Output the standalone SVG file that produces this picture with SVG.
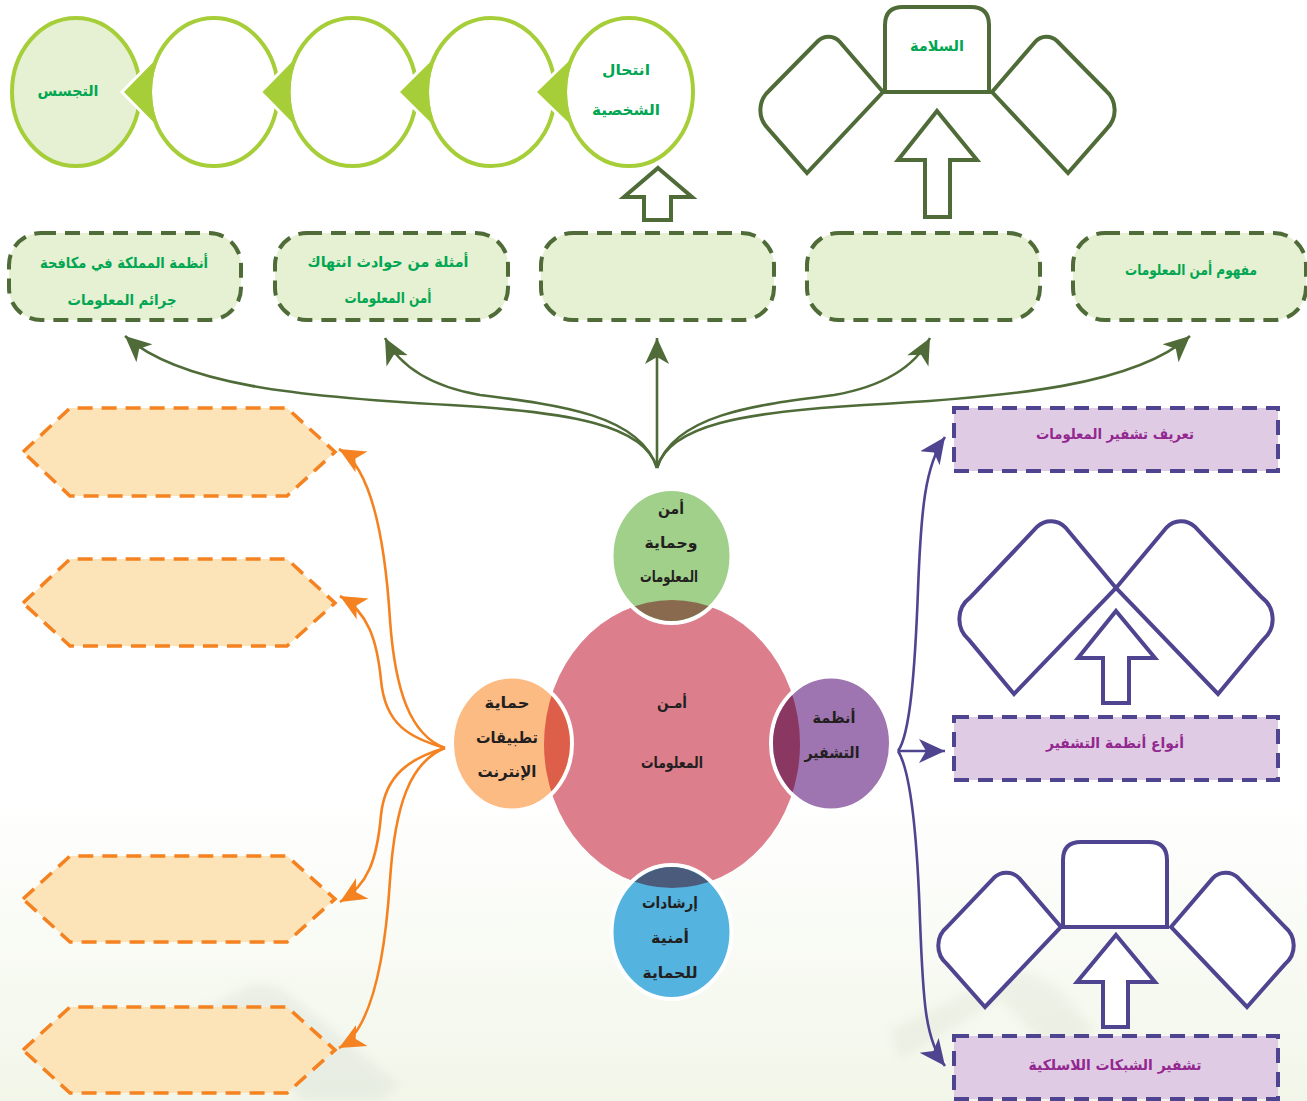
<svg xmlns="http://www.w3.org/2000/svg" width="1307" height="1101" viewBox="0 0 1307 1101">
<style>
text{font-family:"DejaVu Sans",sans-serif;font-weight:700;text-anchor:middle;direction:rtl;dominant-baseline:central}
.g{fill:#00a651;font-size:15px}
.p{fill:#92278f;font-size:14.500px}
.k{fill:#231f20;font-size:15.500px}
.el{fill:#fff;stroke:#a6ce39;stroke-width:4}
.hal{fill:#fff;stroke:#fff;stroke-width:6}
.che{fill:#a6ce39}
.pill{fill:#e6f0d2;stroke:#4e6b38;stroke-width:4;stroke-dasharray:15 9}
.hex{fill:#fde3b8;stroke:#f58220;stroke-width:3.500;stroke-dasharray:15 9}
.box{fill:#e0cbe4;stroke:#4e4490;stroke-width:4;stroke-dasharray:15 9}
.go{fill:#fff;stroke:#4e6b38;stroke-width:4}
.po{fill:#fff;stroke:#4e4490;stroke-width:4}
.ring{stroke:#fff;stroke-width:4}
.cg{fill:none;stroke:#4e6b38;stroke-width:2.600;marker-end:url(#mg)}
.co{fill:none;stroke:#f58220;stroke-width:2.600;marker-end:url(#mo)}
.cp{fill:none;stroke:#4e4490;stroke-width:2.600;marker-end:url(#mp)}
</style>
<defs>
<linearGradient id="bg" x1="0" y1="0" x2="0" y2="1"><stop offset="0" stop-color="#fff"/><stop offset=".72" stop-color="#fff"/><stop offset="1" stop-color="#f2f6e9"/></linearGradient>
<filter id="soft" x="-20%" y="-20%" width="140%" height="140%"><feGaussianBlur stdDeviation="5"/></filter>
<marker id="mg" viewBox="0 -13 28 26" refX="26" refY="0" markerWidth="28" markerHeight="26" markerUnits="userSpaceOnUse" orient="auto"><path d="M0-12 26 0 0 12 7 0Z" fill="#4e6b38"/></marker>
<marker id="mo" viewBox="0 -13 28 26" refX="26" refY="0" markerWidth="28" markerHeight="26" markerUnits="userSpaceOnUse" orient="auto"><path d="M0-12 26 0 0 12 7 0Z" fill="#f58220"/></marker>
<marker id="mp" viewBox="0 -13 28 26" refX="26" refY="0" markerWidth="28" markerHeight="26" markerUnits="userSpaceOnUse" orient="auto"><path d="M0-12 26 0 0 12 7 0Z" fill="#4e4490"/></marker>
<clipPath id="big"><ellipse cx="672" cy="744" rx="128" ry="144"/></clipPath>
</defs>
<rect id="background" width="1307" height="1101" fill="url(#bg)"/>
<path d="M190 1015 250 985Q270 980 290 995L400 1085 380 1101H300L250 1020 190 1040Z" fill="#dfe5dc" opacity=".5" filter="url(#soft)"/>
<path d="M890 1030 1000 975Q1030 965 1060 990L1095 1030 1060 1060 1000 1000 900 1060Z" fill="#dfe5d6" opacity=".4" filter="url(#soft)"/>

<g id="connectors">
<path class="cg" d="M657 468C645 425 570 412 450 405C300 397 180 385 125 336"/>
<path class="cg" d="M657 468C640 415 560 405 480 395C440 388 403 372 385 338"/>
<path class="cg" d="M657 468V338"/>
<path class="cg" d="M657 468C674 415 754 405 834 395C874 388 912 372 930 338"/>
<path class="cg" d="M657 468C669 425 744 412 864 405C1014 397 1135 385 1190 336"/>
<path class="co" d="M445 748C410 735 395 690 390 620C385 540 372 468 339 449"/>
<path class="co" d="M445 748C410 738 385 725 381 680C377 640 368 612 340 596"/>
<path class="co" d="M445 748C410 758 385 775 381 815C377 860 368 885 340 902"/>
<path class="co" d="M445 748C410 762 395 805 390 880C385 960 372 1030 339 1048"/>
<path class="cp" d="M898 751C910 735 915 670 918 590C921 510 925 465 945 437"/>
<path class="cp" d="M898 751H945"/>
<path class="cp" d="M898 751C910 770 917 830 920 920C923 1000 925 1040 945 1066"/>
</g>

<g id="chain">
<g id="chain-1"><ellipse cx="76" cy="92" rx="64" ry="74" class="el" style="fill:#e6f0d2"/><text class="g" x="68" y="91" textLength="61" lengthAdjust="spacingAndGlyphs">التجسس</text></g>
<g id="chain-2"><path class="hal" d="M124 92 160.300 55V129Z"/><ellipse cx="214" cy="92" rx="64" ry="74" class="el"/><path class="che" d="M124 92 160.300 55A62 74 0 0 0 160.300 129Z"/></g>
<g id="chain-3"><path class="hal" d="M262.500 92 298.800 55V129Z"/><ellipse cx="352.500" cy="92" rx="64" ry="74" class="el"/><path class="che" d="M262.500 92 298.800 55A62 74 0 0 0 298.800 129Z"/></g>
<g id="chain-4"><path class="hal" d="M400 92 437.300 55V129Z"/><ellipse cx="491" cy="92" rx="64" ry="74" class="el"/><path class="che" d="M400 92 437.300 55A62 74 0 0 0 437.300 129Z"/></g>
<g id="chain-5"><path class="hal" d="M537 92 575.300 55V129Z"/><ellipse cx="629" cy="92" rx="64" ry="74" class="el"/><path class="che" d="M537 92 575.300 55A62 74 0 0 0 575.300 129Z"/><text class="g" x="626" y="70" textLength="48" lengthAdjust="spacingAndGlyphs">انتحال</text><text class="g" x="626" y="110" textLength="68" lengthAdjust="spacingAndGlyphs">الشخصية</text></g>
</g>

<g id="safety">
<path class="go" d="M883 92 839.700 41.700A15 15 0 0 0 818 41L769.300 90.500A26 26 0 0 0 768.100 128.600L807 173Z"/>
<path class="go" d="M992 92 1035.300 41.700A15 15 0 0 1 1057 41L1105.700 90.500A26 26 0 0 1 1106.900 128.600L1068 173Z"/>
<path class="go" d="M885 92V25Q885 7 903 7H971Q989 7 989 25V92Z"/>
<text class="g" x="937" y="46" textLength="54" lengthAdjust="spacingAndGlyphs">السلامة</text>
</g>
<path id="up-safety" class="go" d="M937 111 977 160H950V217H925V160H898Z"/>
<path id="up-chain" class="go" d="M658 168 692 197H671V220H644V197H624Z"/>

<g id="pill-1"><rect x="9" y="233" width="232" height="87" rx="32" class="pill"/><text class="g" x="124" y="263" textLength="168" lengthAdjust="spacingAndGlyphs">أنظمة المملكة في مكافحة</text><text class="g" x="122" y="300" textLength="109" lengthAdjust="spacingAndGlyphs">جرائم المعلومات</text></g>
<g id="pill-2"><rect x="275" y="233" width="233" height="87" rx="32" class="pill"/><text class="g" x="388" y="262" textLength="161" lengthAdjust="spacingAndGlyphs">أمثلة من حوادث انتهاك</text><text class="g" x="388" y="298" textLength="87" lengthAdjust="spacingAndGlyphs">أمن المعلومات</text></g>
<g id="pill-3"><rect x="541" y="233" width="233" height="87" rx="32" class="pill"/></g>
<g id="pill-4"><rect x="807" y="233" width="233" height="87" rx="32" class="pill"/></g>
<g id="pill-5"><rect x="1073" y="233" width="233" height="87" rx="32" class="pill"/><text class="g" x="1191" y="270" textLength="132" lengthAdjust="spacingAndGlyphs">مفهوم أمن المعلومات</text></g>

<g id="hex-1"><path class="hex" d="M23 452 70 408H287L335 452 287 496H70Z"/></g>
<g id="hex-2"><path class="hex" d="M23 603 70 559H287L335 603 287 646H70Z"/></g>
<g id="hex-3"><path class="hex" d="M23 899 70 856H287L335 899 287 942H70Z"/></g>
<g id="hex-4"><path class="hex" d="M23 1050 70 1007H287L335 1050 287 1093H70Z"/></g>

<g id="hub">
<ellipse id="hub-main" cx="672" cy="744" rx="128" ry="144" fill="#dd7e8c"/>
<g id="hub-top"><ellipse class="ring" cx="671.500" cy="556" rx="60" ry="67" fill="#a0d08a"/><ellipse cx="671.500" cy="556" rx="58" ry="65" fill="#8a6a4e" clip-path="url(#big)"/><text class="k" x="671" y="509" textLength="26" lengthAdjust="spacingAndGlyphs">أمن</text><text class="k" x="671" y="543" textLength="53" lengthAdjust="spacingAndGlyphs">وحماية</text><text class="k" x="669" y="577" textLength="58" lengthAdjust="spacingAndGlyphs">المعلومات</text></g>
<g id="hub-left"><ellipse class="ring" cx="512" cy="743.500" rx="60" ry="67" fill="#fdbb84"/><ellipse cx="512" cy="743.500" rx="58" ry="65" fill="#dd5f4a" clip-path="url(#big)"/><text class="k" x="507" y="703" textLength="45" lengthAdjust="spacingAndGlyphs">حماية</text><text class="k" x="507" y="738" textLength="62" lengthAdjust="spacingAndGlyphs">تطبيقات</text><text class="k" x="507" y="772" textLength="59" lengthAdjust="spacingAndGlyphs">الإنترنت</text></g>
<g id="hub-right"><ellipse class="ring" cx="831" cy="743.500" rx="60" ry="67" fill="#9e74b1"/><ellipse cx="831" cy="743.500" rx="58" ry="65" fill="#8a3862" clip-path="url(#big)"/><text class="k" x="834" y="718" textLength="43" lengthAdjust="spacingAndGlyphs">أنظمة</text><text class="k" x="832" y="753" textLength="55" lengthAdjust="spacingAndGlyphs">التشفير</text></g>
<g id="hub-bottom"><ellipse class="ring" cx="671.500" cy="932" rx="60" ry="67" fill="#55b4df"/><ellipse cx="671.500" cy="932" rx="58" ry="65" fill="#4a5b7c" clip-path="url(#big)"/><text class="k" x="670" y="903" textLength="56" lengthAdjust="spacingAndGlyphs">إرشادات</text><text class="k" x="670" y="938" textLength="38" lengthAdjust="spacingAndGlyphs">أمنية</text><text class="k" x="670" y="973" textLength="55" lengthAdjust="spacingAndGlyphs">للحماية</text></g>
<text class="k" x="672" y="703" textLength="30" lengthAdjust="spacingAndGlyphs">أمـن</text><text class="k" x="672" y="763" textLength="62" lengthAdjust="spacingAndGlyphs">المعلومات</text>
</g>

<g id="box-1"><rect x="954" y="408" width="324" height="63" class="box"/><text class="p" x="1115" y="434" textLength="158" lengthAdjust="spacingAndGlyphs">تعريف تشفير المعلومات</text></g>
<g id="box-2"><rect x="954" y="717" width="324" height="63" class="box"/><text class="p" x="1115" y="743" textLength="138" lengthAdjust="spacingAndGlyphs">أنواع أنظمة التشفير</text></g>
<g id="box-3"><rect x="954" y="1036" width="324" height="63" class="box"/><text class="p" x="1115" y="1065" textLength="173" lengthAdjust="spacingAndGlyphs">تشفير الشبكات اللاسلكية</text></g>

<g id="types">
<path class="po" d="M1116 588 1065.300 527.300A20 20 0 0 0 1037.400 526.500L970 597.700A27 27 0 0 0 968.600 639.500L1014 694Z"/>
<path class="po" d="M1116 588 1166.700 527.300A20 20 0 0 1 1194.600 526.500L1262 597.700A27 27 0 0 1 1263.400 639.500L1218 694Z"/>
</g>
<path id="up-types" class="po" d="M1116 611 1155 658H1129V703H1103V658H1078Z"/>
<g id="wireless">
<path class="po" d="M1061 927 1019.400 878.400A18 18 0 0 0 993.900 877.800L947.200 926.900A24 24 0 0 0 946.600 963.700L985 1007Z"/>
<path class="po" d="M1171 927 1212.600 878.400A18 18 0 0 1 1238.100 877.800L1284.800 926.900A24 24 0 0 1 1285.400 963.700L1247 1007Z"/>
<path class="po" d="M1063 927V860Q1063 842 1081 842H1149Q1167 842 1167 860V927Z"/>
</g>
<path id="up-wireless" class="po" d="M1116 935 1155 982H1128V1027H1103V982H1077Z"/>
</svg>
